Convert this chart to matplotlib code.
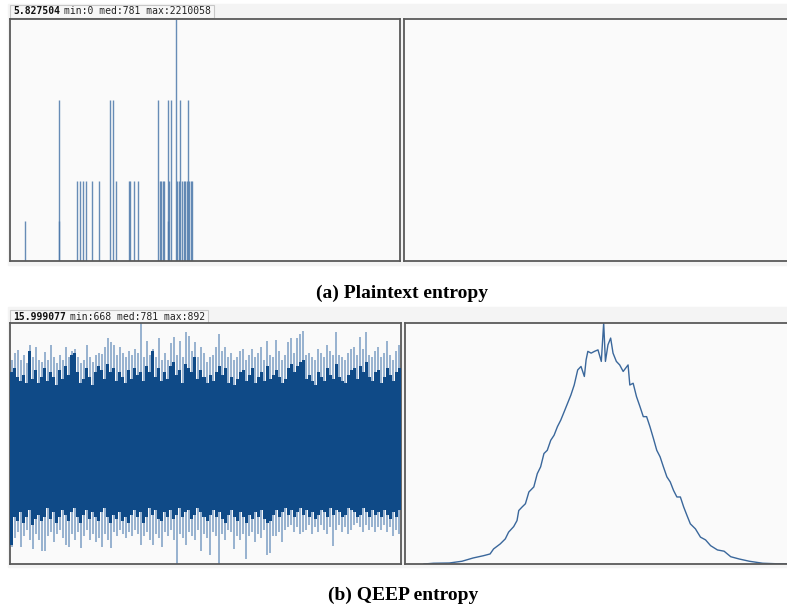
import numpy as np
import matplotlib
matplotlib.use("Agg")
import matplotlib.pyplot as plt
from matplotlib.patches import Rectangle

# ---- (a) plaintext: 16-bit value histogram, only a few bins are non-zero
plain_bins = [2570, 8202, 8224, 11309, 11813, 12317, 12821, 13830, 15006,
              16754, 17258, 17762, 20047, 20215, 20887, 21559, 24920, 25155,
              25424, 25710, 25928, 26550, 26600, 26768, 27054, 27844, 28113,
              28399, 28617, 28953, 29239, 29457, 29693, 29911, 30131, 30366,
              30635]
plain_counts = [367000, 367000, 1470000, 735000, 735000, 735000, 735000, 735000,
                735000, 1470000, 1470000, 735000, 735000, 735000, 735000, 735000,
                1470000, 735000, 735000, 735000, 735000, 367000, 1470000, 735000,
                1470000, 2210058, 735000, 735000, 1470000, 735000, 735000, 735000,
                735000, 1470000, 735000, 735000, 735000]
plain_header = "5.827504 min:0 med:781 max:2210058"

# ---- (b) QEEP: per-column envelope of the 65536 bin counts
qeep_hi = [858, 864, 867, 858, 862, 855, 872, 860, 870, 858, 856, 865,
           858, 872, 860, 855, 862, 858, 870, 860, 866, 868, 860, 855,
           858, 872, 860, 856, 862, 864, 863, 870, 878, 874, 872, 862,
           870, 864, 860, 866, 862, 868, 864, 892, 860, 875, 862, 868,
           860, 878, 858, 864, 858, 873, 879, 862, 875, 860, 884, 880,
           866, 874, 860, 870, 864, 856, 860, 862, 870, 882, 866, 870,
           860, 864, 858, 860, 866, 868, 858, 862, 868, 860, 864, 870,
           858, 875, 862, 860, 876, 866, 858, 862, 874, 878, 864, 878,
           882, 885, 862, 864, 860, 858, 868, 864, 860, 872, 866, 862,
           884, 862, 860, 858, 864, 868, 870, 862, 879, 868, 884, 862,
           860, 866, 870, 860, 864, 875, 862, 858, 866, 872]
qeep_hi_dark = [846, 850, 842, 838, 844, 836, 866, 840, 848, 836, 842, 850,
                838, 846, 842, 834, 848, 840, 852, 844, 862, 864, 846, 836,
                840, 850, 842, 834, 846, 852, 848, 840, 854, 846, 850, 838,
                846, 842, 836, 848, 840, 850, 844, 846, 838, 852, 846, 866,
                842, 850, 838, 846, 840, 852, 856, 844, 848, 836, 854, 850,
                846, 860, 840, 848, 842, 836, 844, 838, 846, 852, 844, 850,
                836, 842, 834, 840, 846, 848, 838, 844, 850, 836, 842, 846,
                838, 852, 840, 844, 848, 842, 836, 840, 850, 854, 846, 852,
                856, 858, 840, 844, 838, 834, 846, 842, 838, 850, 844, 840,
                854, 842, 838, 836, 844, 848, 850, 840, 852, 846, 856, 842,
                838, 846, 848, 836, 842, 850, 844, 838, 846, 850]
qeep_lo_dark = [686, 712, 708, 716, 706, 712, 718, 704, 710, 714, 708, 712,
                720, 710, 716, 706, 712, 718, 714, 708, 716, 720, 712, 706,
                714, 718, 710, 716, 712, 708, 716, 720, 712, 706, 714, 710,
                716, 708, 712, 706, 714, 718, 712, 716, 706, 712, 720, 714,
                718, 710, 708, 716, 712, 718, 710, 714, 720, 712, 716, 718,
                710, 714, 720, 716, 712, 708, 714, 718, 712, 716, 710, 706,
                714, 718, 712, 708, 716, 712, 706, 714, 710, 716, 712, 718,
                710, 706, 708, 714, 718, 712, 716, 720, 714, 718, 712, 716,
                720, 714, 718, 712, 716, 710, 714, 718, 716, 712, 720, 714,
                718, 716, 712, 714, 720, 718, 716, 712, 714, 720, 716, 712,
                718, 714, 716, 712, 718, 714, 710, 716, 712, 718]
qeep_lo = [684, 692, 698, 684, 694, 700, 690, 682, 696, 690, 680, 680,
           694, 698, 688, 696, 700, 692, 686, 684, 696, 690, 698, 683,
           694, 700, 690, 696, 688, 692, 684, 696, 690, 683, 698, 694,
           700, 696, 692, 698, 694, 700, 696, 686, 694, 698, 690, 686,
           696, 692, 684, 698, 694, 700, 690, 668, 696, 692, 686, 698,
           694, 690, 700, 680, 696, 692, 676, 698, 694, 668, 696, 690,
           700, 698, 682, 694, 690, 696, 673, 694, 698, 688, 696, 692,
           700, 676, 678, 694, 694, 698, 688, 700, 702, 704, 698, 702,
           696, 698, 700, 704, 696, 702, 698, 704, 700, 696, 702, 685,
           700, 704, 698, 702, 696, 700, 704, 706, 702, 698, 704, 700,
           702, 698, 702, 700, 704, 698, 702, 694, 700, 696]
qeep_header = "15.999077 min:668 med:781 max:892"

# distribution of the bin counts (count value -> number of bins)
dist_x = [668, 674, 684, 692, 699, 705.5, 709.7, 711.9, 716.1, 719.3, 721.4,
          724.6, 726.7, 727.8, 729.9, 732, 734.2, 737.3, 739.5, 741.6, 743.7,
          745.8, 748, 750.1, 752.2, 754.3, 756.5, 758.6, 760.7, 762.8, 765,
          767.1, 769.2, 770.3, 771.4, 773.5, 775.6, 777.8, 779.9, 781.4,
          782.5, 784.1, 785.8, 787.3, 789.4, 791.5, 793.7, 796.8, 797.9, 800,
          802.1, 804.3, 806.4, 808.5, 810.6, 812.8, 814.9, 817, 819.1, 821.3,
          823.4, 825.5, 827.6, 829.8, 831.9, 834, 836.1, 839.3, 842.5, 845.7,
          848.9, 853.2, 857.4, 861.6, 866.9, 873.3, 881.8, 890.3, 898.8]
dist_y = [0, 3, 4, 11, 24, 33, 40, 60, 80, 100, 127, 149, 173, 213, 227, 240,
          287, 307, 360, 387, 440, 453, 493, 513, 547, 573, 607, 640, 673, 713,
          773, 787, 747, 813, 847, 840, 847, 853, 807, 960, 807, 873, 900, 840,
          807, 793, 767, 793, 713, 720, 667, 627, 587, 587, 547, 500, 453, 427,
          387, 347, 327, 293, 267, 267, 227, 193, 160, 140, 107, 96, 73, 56,
          51, 29, 20, 11, 3, 1, 0]

W, H = 787, 609
fig = plt.figure(figsize=(W / 100, H / 100), dpi=100)
fig.patch.set_facecolor("white")


def px_axes(x0, y0, x1, y1):
    ax = fig.add_axes([x0 / W, 1 - y1 / H, (x1 - x0) / W, (y1 - y0) / H])
    ax.set_facecolor("#fafafa")
    for s in ax.spines.values():
        s.set_color("#5a5a5a")
        s.set_linewidth(1.3)
    ax.set_xticks([])
    ax.set_yticks([])
    return ax


# light grey screenshot background
for (y0, y1) in [(4, 265), (307, 567)]:
    fig.patches.append(Rectangle((8 / W, 1 - y1 / H), (W - 8) / W, (y1 - y0) / H,
                                 transform=fig.transFigure, color="#f4f4f4",
                                 zorder=-5))

# ---- (a) left
ax = px_axes(10, 19, 400, 261)
ax.vlines(plain_bins, 0, plain_counts, color="#4d79ab", lw=1.0, alpha=0.85)
ax.set_xlim(0, 65536)
ax.set_ylim(0, 2210058)

# ---- (a) right (empty)
ax = px_axes(404, 19, 790, 261)

# ---- (b) left
ax = px_axes(10, 323, 401, 564)
n = len(qeep_hi)
step = 65536 / n
edges = np.arange(n + 1) * step
cx = (np.arange(n) + 0.5) * step
ax.vlines(cx, qeep_lo, qeep_hi, color="#86a5c8", lw=1.2, zorder=2)
ax.stairs(qeep_hi_dark, edges, baseline=qeep_lo_dark, fill=True,
          color="#0f4a87", linewidth=0, zorder=3)
ax.set_xlim(0, 65536)
ax.set_ylim(668, 892)

# ---- (b) right
ax = px_axes(405, 323, 790, 564)
ax.plot(dist_x, dist_y, color="#3a679b", lw=1.0)
ax.set_xlim(656, 899)
ax.set_ylim(0, 960)

# headers: bold entropy value + regular stats, monospace, in a small box
fig.canvas.draw()
rend = fig.canvas.get_renderer()
for header, y in [(plain_header, 11.5), (qeep_header, 316.5)]:
    num, rest = header.split(" ", 1)
    t1 = fig.text(13 / W, 1 - y / H, num, family="DejaVu Sans Mono", fontsize=7,
                  fontweight="bold", va="center", ha="left", color="#111111")
    w1 = t1.get_window_extent(rend).width
    t2 = fig.text((13 + w1 + 4) / W, 1 - y / H, rest, family="DejaVu Sans Mono",
                  fontsize=7, va="center", ha="left", color="#222222")
    w2 = t2.get_window_extent(rend).width
    fig.patches.append(Rectangle((10 / W, 1 - (y + 6.5) / H), (w1 + w2 + 10) / W,
                                 13 / H, transform=fig.transFigure,
                                 fc="#f7f7f7", ec="#c8c8c8", lw=0.8, zorder=-1))

# captions
fig.text(402 / W, 1 - 293 / H, "(a) Plaintext entropy", family="Liberation Serif",
         fontweight="bold", fontsize=14, ha="center", va="center")
fig.text(403 / W, 1 - 595 / H, "(b) QEEP entropy", family="Liberation Serif",
         fontweight="bold", fontsize=14, ha="center", va="center")

fig.savefig("out.png", dpi=100)
